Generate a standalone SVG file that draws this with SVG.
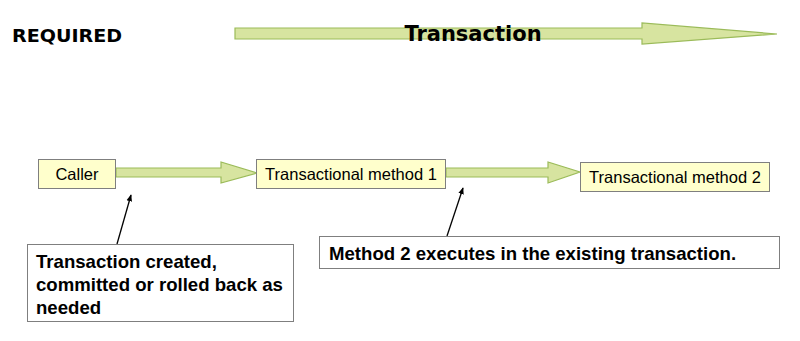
<svg xmlns="http://www.w3.org/2000/svg" width="800" height="341" viewBox="0 0 800 341">
<defs>
<style>
.big{fill:#d7e4a0;stroke:#9bbb59;stroke-width:1.2}
.box{fill:#ffffcc;stroke:#7f7f7f;stroke-width:1}
.note{fill:#ffffff;stroke:#7f7f7f;stroke-width:1}
.lbl{font-family:"Liberation Sans",Arial,sans-serif;font-size:16.5px;fill:#000}
.nt{font-family:"Liberation Sans",Arial,sans-serif;font-size:18.6px;font-weight:bold;fill:#000}
.ptr{stroke:#000;stroke-width:1.3;fill:none}
</style>
<marker id="ah" viewBox="0 0 10 10" refX="9" refY="5" markerWidth="7" markerHeight="7" orient="auto" markerUnits="userSpaceOnUse">
<path d="M0,1 L10,5 L0,9 z" fill="#000"/>
</marker>
</defs>
<rect width="800" height="341" fill="#fff"/>
<text x="12" y="42" font-family="DejaVu Sans, Verdana, sans-serif" font-size="17" font-weight="bold" textLength="110" lengthAdjust="spacingAndGlyphs">REQUIRED</text>
<g id="transaction-arrow">
<path class="big" d="M235,28 L642,28 L642,23 L777,34 L642,44 L642,39 L235,39 Z"/>
<text x="473" y="41" text-anchor="middle" font-family="DejaVu Sans, Verdana, sans-serif" font-size="21" font-weight="bold">Transaction</text>
</g>
<g id="connectors">
<path class="big" d="M116,168 L221,168 L221,162 L257,173 L221,183 L221,177 L116,177 Z"/>
<path class="big" d="M446,168 L548,168 L548,162 L580,172 L548,183 L548,177 L446,177 Z"/>
<line class="ptr" x1="117" y1="244" x2="131" y2="195" marker-end="url(#ah)"/>
<line class="ptr" x1="447" y1="236" x2="463" y2="188" marker-end="url(#ah)"/>
</g>
<g id="caller">
<rect class="box" x="38.5" y="159.5" width="77" height="29"/>
<text class="lbl" x="77" y="180" text-anchor="middle">Caller</text>
</g>
<g id="method1">
<rect class="box" x="256.5" y="159.5" width="189" height="29"/>
<text class="lbl" x="351" y="180" text-anchor="middle">Transactional method 1</text>
</g>
<g id="method2">
<rect class="box" x="580.5" y="162.5" width="189" height="29"/>
<text class="lbl" x="675" y="183" text-anchor="middle">Transactional method 2</text>
</g>
<g id="note1">
<rect class="note" x="27.5" y="244.5" width="266" height="77"/>
<text class="nt" x="36" y="268">Transaction created,</text>
<text class="nt" x="36" y="291">committed or rolled back as</text>
<text class="nt" x="36" y="314">needed</text>
</g>
<g id="note2">
<rect class="note" x="319.5" y="236.5" width="460" height="32"/>
<text class="nt" x="329" y="260">Method 2 executes in the existing transaction.</text>
</g>
</svg>
